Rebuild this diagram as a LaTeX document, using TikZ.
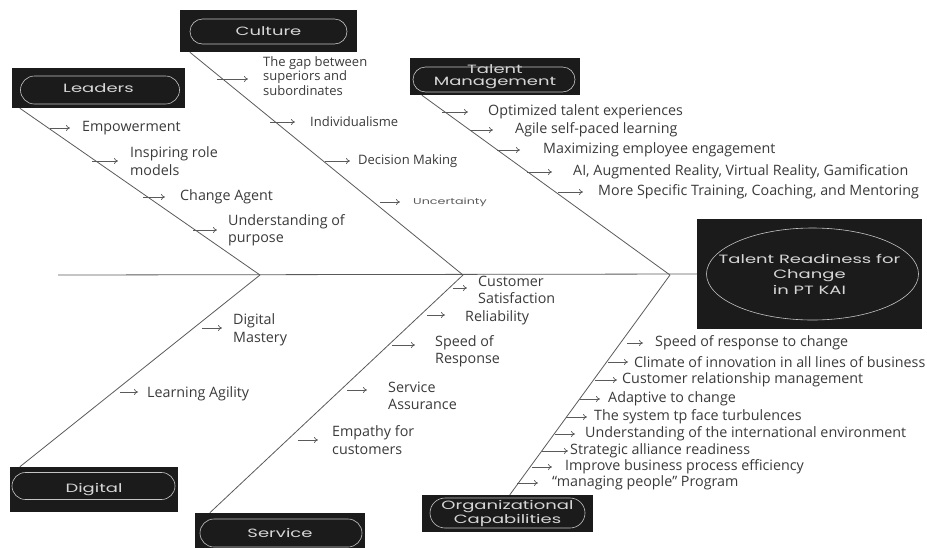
\documentclass[tikz,border=0pt]{standalone}
\usepackage{fontspec}
\setmainfont{Open Sans}
\newfontfamily\headfont[FakeStretch=1.5]{Poppins}
\usetikzlibrary{arrows.meta,shapes.misc}
\definecolor{boxblack}{HTML}{1C1B1B}
\definecolor{pillgray}{HTML}{C4C4C4}
\definecolor{bonegray}{HTML}{5A5A5A}
\definecolor{itemgray}{HTML}{3A3A3A}

\begin{document}
\begin{tikzpicture}[x=1pt,y=-1pt,>={To[length=4pt,width=6pt]},
  headbox/.style={fill=boxblack,text=pillgray!70!white,align=center,inner sep=0pt,
    font=\headfont\fontsize{12}{12}\selectfont},
  pill/.style={rounded rectangle,draw=pillgray,line width=0.6pt,inner sep=0pt},
  bone/.style={draw=bonegray,line width=0.8pt},
  cue/.style={->,draw=bonegray,line width=0.7pt},
  item/.style={anchor=west,inner sep=0pt,text=itemgray,align=left,
    font=\fontsize{14.3}{17.5}\selectfont},
  culitem/.style={item,font=\fontsize{13}{14.5}\selectfont}]
  \useasboundingbox (0,0) rectangle (927,547);

  % spine and joints
  \coordinate (tail) at (58,275);
  \coordinate (j1) at (260,275);
  \coordinate (j2) at (463,275);
  \coordinate (j3) at (670,275);

  % effect
  \node[headbox,minimum width=225pt,minimum height=110pt,
    font=\headfont\fontsize{12}{15.5}\selectfont] (effect) at (809.5,274)
    {Talent Readiness for\\Change\\in PT KAI};
  \draw[pill] ([xshift=3pt]effect.center) ellipse [x radius=106pt, y radius=46pt];
  \draw[bone] (tail) -- (effect.west);

  % category boxes
  \node[headbox,minimum width=173pt,minimum height=40pt] (leaders) at (98.5,88) {Leaders};
  \node[pill,minimum width=159pt,minimum height=28pt] (leaders-pill) at (100,90) {};
  \node[headbox,minimum width=177pt,minimum height=42pt] (culture) at (268.5,31) {Culture};
  \node[pill,minimum width=157pt,minimum height=25pt] (culture-pill) at (268.5,31.5) {};
  \node[headbox,minimum width=170pt,minimum height=37pt] (talent) at (495,76.5) {Talent\\Management};
  \node[pill,minimum width=162pt,minimum height=25pt] (talent-pill) at (494,79.5) {};
  \node[headbox,minimum width=168pt,minimum height=45pt] (digital) at (94,489.5) {Digital};
  \node[pill,minimum width=163pt,minimum height=27pt] (digital-pill) at (93.5,486) {};
  \node[headbox,minimum width=170pt,minimum height=40pt] (service) at (280,533) {Service};
  \node[pill,minimum width=162pt,minimum height=28pt] (service-pill) at (281,533) {};
  \node[headbox,minimum width=171pt,minimum height=37pt] (org) at (507.5,513.5) {Organizational\\Capabilities};
  \node[pill,minimum width=155pt,minimum height=30pt] (org-pill) at (507.5,513) {};

  % bones
  \draw[bone] ([xshift=8pt]leaders.south west) -- (j1);
  \draw[bone] ([xshift=10pt]culture.south west) -- (j2);
  \draw[bone] ([xshift=12pt]talent.south west) -- (j3);
  \draw[bone] ([xshift=10pt]digital.north west) -- (j1);
  \draw[bone] ([xshift=15pt]service.north west) -- (j2);
  \draw[bone] ([xshift=88pt]org.north west) -- (j3);

  % leaders
  \node[item] (emp) at (82,128) {Empowerment};
  \node[item] (irm) at (130,161) {Inspiring role\\models};
  \node[item] (cag) at (180,197) {Change Agent};
  \node[item] (uop) at (228,230) {Understanding of\\purpose};
  \draw[cue] ([xshift=-32pt]emp.west) -- ([xshift=-12pt]emp.west);
  \draw[cue] ([xshift=-38pt]irm.west) -- ([xshift=-12pt]irm.west);
  \draw[cue] ([xshift=-37pt]cag.west) -- ([xshift=-15pt]cag.west);
  \draw[cue] ([xshift=-35pt]uop.west) -- ([xshift=-11pt]uop.west);

  % culture
  \node[culitem] (gap) at (263,76) {The gap between\\superiors and\\subordinates};
  \node[culitem] (ind) at (310,122) {Individualisme};
  \node[culitem] (dec) at (358,161) {Decision Making};
  \node[item,text=bonegray,font=\headfont\fontsize{8.5}{10}\selectfont] (unc) at (413,202) {Uncertainty};
  \draw[cue] ([xshift=-46pt,yshift=-3pt]gap.west) -- ([xshift=-15pt,yshift=-3pt]gap.west);
  \draw[cue] ([xshift=-40pt]ind.west) -- ([xshift=-15pt]ind.west);
  \draw[cue] ([xshift=-33pt]dec.west) -- ([xshift=-8pt]dec.west);
  \draw[cue] ([xshift=-33pt]unc.west) -- ([xshift=-13pt]unc.west);

  % talent management
  \node[item] (ote) at (488,112) {Optimized talent experiences};
  \node[item] (asp) at (515,130) {Agile self-paced learning};
  \node[item] (mee) at (543,150) {Maximizing employee engagement};
  \node[item] (aar) at (573,172) {AI, Augmented Reality, Virtual Reality, Gamification};
  \node[item] (mst) at (598,192) {More Specific Training, Coaching, and Mentoring};
  \draw[cue] ([xshift=-46pt]ote.west) -- ([xshift=-20pt]ote.west);
  \draw[cue] ([xshift=-45pt]asp.west) -- ([xshift=-22pt]asp.west);
  \draw[cue] ([xshift=-46pt]mee.west) -- ([xshift=-23pt]mee.west);
  \draw[cue] ([xshift=-46pt]aar.west) -- ([xshift=-21pt]aar.west);
  \draw[cue] ([xshift=-40pt]mst.west) -- ([xshift=-15pt]mst.west);

  % digital
  \node[item] (dm) at (233,330) {Digital\\Mastery};
  \node[item] (la) at (147,394) {Learning Agility};
  \draw[cue] ([xshift=-31pt,yshift=2pt]dm.west) -- ([xshift=-11pt,yshift=2pt]dm.west);
  \draw[cue] ([xshift=-27pt,yshift=2pt]la.west) -- ([xshift=-9pt,yshift=2pt]la.west);

  % service
  \node[item] (csat) at (478,290) {Customer\\Satisfaction};
  \node[item] (rel) at (465,318) {Reliability};
  \node[item] (sor) at (435,351) {Speed of\\Response};
  \node[item] (sas) at (388,396) {Service\\Assurance};
  \node[item] (emc) at (332,440) {Empathy for\\customers};
  \draw[cue] ([xshift=-25pt,yshift=2pt]csat.west) -- ([xshift=-11pt,yshift=2pt]csat.west);
  \draw[cue] ([xshift=-38pt,yshift=3pt]rel.west) -- ([xshift=-20pt,yshift=3pt]rel.west);
  \draw[cue] ([xshift=-43pt,yshift=6pt]sor.west) -- ([xshift=-20pt,yshift=6pt]sor.west);
  \draw[cue] ([xshift=-41pt,yshift=6pt]sas.west) -- ([xshift=-21pt,yshift=6pt]sas.west);
  \draw[cue] ([xshift=-34pt]emc.west) -- ([xshift=-14pt]emc.west);

  % organizational capabilities
  \node[item] (spr) at (655,343) {Speed of response to change};
  \node[item] (cli) at (634,362) {Climate of innovation in all lines of business};
  \node[item] (crm) at (622,380) {Customer relationship management};
  \node[item] (adc) at (608,399) {Adaptive to change};
  \node[item] (stf) at (594,417) {The system tp face turbulences};
  \node[item] (uie) at (585,434) {Understanding of the international environment};
  \node[item] (sar) at (570,451) {Strategic alliance readiness};
  \node[item] (ibp) at (565,467) {Improve business process efficiency};
  \node[item] (mpp) at (552,483) {“managing people” Program};
  \draw[cue] ([xshift=-28pt]spr.west) -- ([xshift=-12pt]spr.west);
  \draw[cue] ([xshift=-26pt]cli.west) -- ([xshift=-6pt]cli.west);
  \draw[cue] ([xshift=-27pt]crm.west) -- ([xshift=-5pt]crm.west);
  \draw[cue] ([xshift=-28pt]adc.west) -- ([xshift=-8pt]adc.west);
  \draw[cue] ([xshift=-28pt]stf.west) -- ([xshift=-7pt]stf.west);
  \draw[cue] ([xshift=-30pt]uie.west) -- ([xshift=-10pt]uie.west);
  \draw[cue] ([xshift=-28pt]sar.west) -- ([xshift=-2pt]sar.west);
  \draw[cue] ([xshift=-33pt]ibp.west) -- ([xshift=-13pt]ibp.west);
  \draw[cue] ([xshift=-35pt]mpp.west) -- ([xshift=-14pt]mpp.west);
\end{tikzpicture}
\end{document}
